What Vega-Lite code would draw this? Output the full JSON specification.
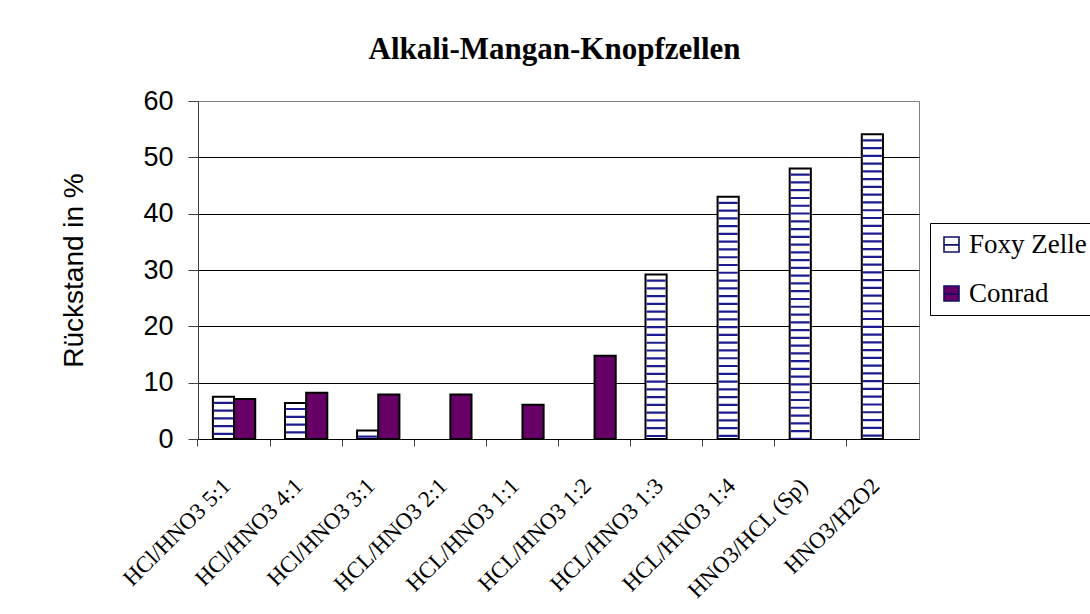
{
  "$schema": "https://vega.github.io/schema/vega-lite/v6.json",
  "width": 721,
  "height": 338,
  "autosize": {"type": "none"},
  "padding": {"left": 198, "top": 101, "right": 171, "bottom": 175},
  "background": "white",
  "title": {
    "text": "Alkali-Mangan-Knopfzellen",
    "font": "Liberation Serif",
    "fontSize": 31,
    "fontWeight": "bold",
    "color": "black",
    "anchor": "middle",
    "frame": "group",
    "dx": -4,
    "baseline": "alphabetic",
    "offset": -3
  },
  "data": {
    "values": [
      {"cat": "HCl/HNO3 5:1", "series": "Foxy Zelle", "value": 7.5},
      {"cat": "HCl/HNO3 5:1", "series": "Conrad", "value": 7.1},
      {"cat": "HCl/HNO3 4:1", "series": "Foxy Zelle", "value": 6.4},
      {"cat": "HCl/HNO3 4:1", "series": "Conrad", "value": 8.2},
      {"cat": "HCl/HNO3 3:1", "series": "Foxy Zelle", "value": 1.5},
      {"cat": "HCl/HNO3 3:1", "series": "Conrad", "value": 7.9},
      {"cat": "HCL/HNO3 2:1", "series": "Conrad", "value": 7.9},
      {"cat": "HCL/HNO3 1:1", "series": "Conrad", "value": 6.1},
      {"cat": "HCL/HNO3 1:2", "series": "Conrad", "value": 14.8},
      {"cat": "HCL/HNO3 1:3", "series": "Foxy Zelle", "value": 29.2},
      {"cat": "HCL/HNO3 1:4", "series": "Foxy Zelle", "value": 43.0},
      {"cat": "HNO3/HCL (Sp)", "series": "Foxy Zelle", "value": 48.0},
      {"cat": "HNO3/H2O2", "series": "Foxy Zelle", "value": 54.1}
    ]
  },
  "encoding": {
    "x": {
      "field": "cat",
      "type": "nominal",
      "sort": null,
      "scale": {
        "domain": ["HCl/HNO3 5:1", "HCl/HNO3 4:1", "HCl/HNO3 3:1", "HCL/HNO3 2:1", "HCL/HNO3 1:1", "HCL/HNO3 1:2", "HCL/HNO3 1:3", "HCL/HNO3 1:4", "HNO3/HCL (Sp)", "HNO3/H2O2"],
        "paddingInner": 0.413,
        "paddingOuter": 0.2065
      },
      "axis": {
        "title": null,
        "bandPosition": -0.352,
        "labelOffset": -7,
        "labelAngle": -45,
        "labelAlign": "right",
        "labelBaseline": "middle",
        "labelFont": "Liberation Serif",
        "labelFontSize": 23,
        "labelColor": "black",
        "labelPadding": 36,
        "tickSize": 7,
        "tickColor": "#404040",
        "domainColor": "black",
        "grid": false
      }
    },
    "xOffset": {
      "field": "series",
      "type": "nominal",
      "scale": {"domain": ["Foxy Zelle", "Conrad"], "paddingInner": 0, "paddingOuter": 0}
    },
    "y": {
      "field": "value",
      "type": "quantitative",
      "scale": {"domain": [0, 60], "nice": false},
      "axis": {
        "title": "Rückstand in %",
        "titleFont": "Liberation Sans",
        "titleFontSize": 28,
        "titleFontWeight": "normal",
        "titleColor": "black",
        "titlePadding": 54,
        "values": [0, 10, 20, 30, 40, 50, 60],
        "labelFont": "Liberation Sans",
        "labelFontSize": 27,
        "labelColor": "black",
        "labelPadding": 15,
        "tickSize": 10,
        "tickColor": "#404040",
        "domainColor": "#404040",
        "gridColor": {"condition": {"test": "datum.value === 60", "value": "#808080"}, "value": "black"},
        "gridWidth": 1
      }
    }
  },
  "layer": [
    {
      "mark": {"type": "bar", "stroke": "black", "strokeWidth": 2},
      "encoding": {
        "color": {
          "field": "series",
          "type": "nominal",
          "scale": {"domain": ["Foxy Zelle", "Conrad"], "range": ["white", "#660066"]},
          "legend": {
            "orient": "none",
            "legendX": 732,
            "legendY": 122,
            "title": null,
            "strokeColor": "black",
            "fillColor": "white",
            "padding": 8,
            "labelFont": "Liberation Serif",
            "labelFontSize": 27,
            "labelColor": "black",
            "labelLimit": 0,
            "labelOffset": 4,
            "symbolType": "M-1,-1H1V1H-1Z M-1,0.05H1",
            "symbolSize": 225,
            "symbolStrokeColor": "#101060",
            "symbolStrokeWidth": 1.6,
            "symbolOpacity": 1,
            "rowPadding": 21
          }
        }
      }
    },
    {
      "transform": [{"filter": "datum.series === 'Foxy Zelle'"}],
      "mark": {"type": "rule", "color": "#1c1c90", "strokeWidth": 19, "strokeDash": [2.2, 5.57], "strokeDashOffset": 2.8, "strokeCap": "butt"},
      "encoding": {"y2": {"datum": 0}}
    }
  ],
  "config": {
    "view": {"stroke": "#808080", "strokeWidth": 1}
  }
}
